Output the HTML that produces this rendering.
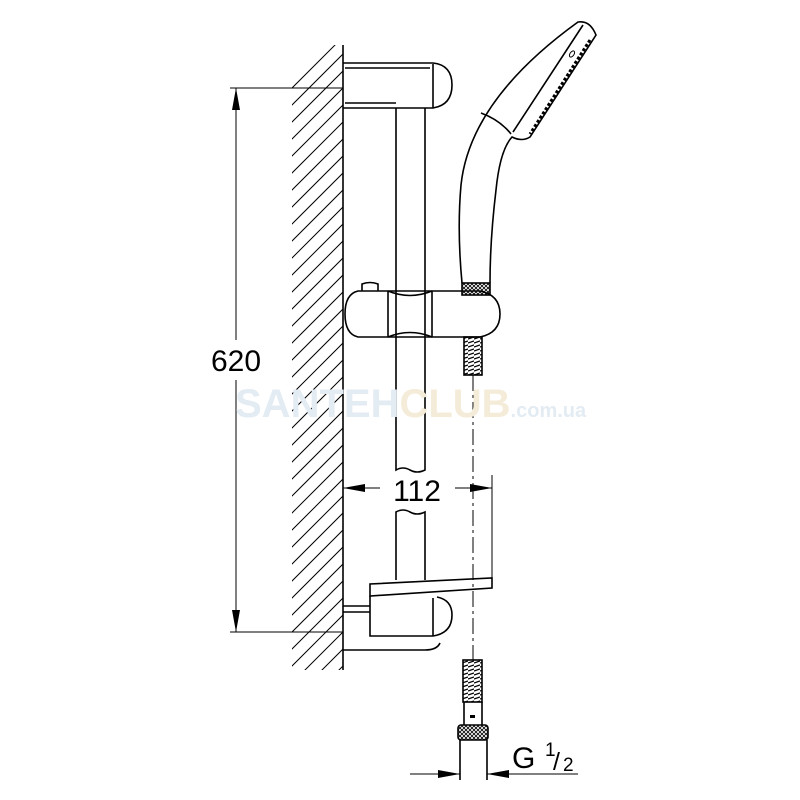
<!DOCTYPE html>
<html><head><style>body{margin:0;background:#fff}svg{display:block}</style></head><body>
<svg width="800" height="800" viewBox="0 0 800 800" xmlns="http://www.w3.org/2000/svg" font-family="Liberation Sans, Arial, sans-serif">
<defs>
<clipPath id="wc"><rect x="292" y="45" width="51" height="625"/></clipPath>
<pattern id="knurl" width="4" height="4" patternUnits="userSpaceOnUse"><path d="M0 0L4 4M4 0L0 4" stroke="#000" stroke-width="0.8"/></pattern>
<pattern id="thr" width="6" height="4" patternUnits="userSpaceOnUse"><path d="M0 3L6 1" stroke="#000" stroke-width="1.3"/></pattern>
</defs>
<g fill="none" stroke="#000" stroke-width="1.6">
<g clip-path="url(#wc)" stroke-width="1">
<path d="M280 100L350 30M280 117L350 47M280 134L350 64M280 151L350 81M280 168L350 98M280 185L350 115M280 202L350 132M280 219L350 149M280 236L350 166M280 253L350 183M280 270L350 200M280 287L350 217M280 304L350 234M280 321L350 251M280 338L350 268M280 355L350 285M280 372L350 302M280 389L350 319M280 406L350 336M280 423L350 353M280 440L350 370M280 457L350 387M280 474L350 404M280 491L350 421M280 508L350 438M280 525L350 455M280 542L350 472M280 559L350 489M280 576L350 506M280 593L350 523M280 610L350 540M280 627L350 557M280 644L350 574M280 661L350 591M280 678L350 608M280 695L350 625M280 712L350 642M280 729L350 659M280 746L350 676"/>
</g>
<line x1="343" y1="45" x2="343" y2="670"/>
<g stroke-width="1">
<line x1="230" y1="88" x2="343" y2="88"/>
<line x1="230" y1="632" x2="343" y2="632"/>
<line x1="236" y1="88" x2="236" y2="340"/>
<line x1="236" y1="380" x2="236" y2="632"/>
</g>
<path d="M236 88L232 110L240 110Z M236 632L232 610L240 610Z" fill="#000" stroke="none"/>
<path d="M343 63H433Q452 65 452 85Q452 105 433 108H343"/>
<path d="M345 68H430M345 103H396"/>
<line x1="433" y1="64" x2="433" y2="108"/>
<path d="M396 108V470Q403 466 410 470Q417 474 425 470V108"/>
<path d="M396 580V512Q403 508 410 512Q417 516 425 512V580"/>
<path d="M362 291V284Q370 281 378 284V291"/>
<path d="M358 291H480Q500 295 500 314Q500 333 480 337H358Q345 334 345 314Q345 294 358 291Z"/>
<line x1="388" y1="291" x2="388" y2="337"/>
<line x1="432" y1="291" x2="432" y2="337"/>
<path d="M388 291Q410 300 432 291M388 337Q410 328 432 337"/>
<path d="M462 283Q457 230 461 185Q470 100 578 22Q590 20 596 35L530 137Q522 142 512 137Q500 150 496 190Q490 240 490 283"/>
<path d="M583 25L513 132M481 113Q500 120 511 134"/>
<path d="M590 40L530 134" stroke-width="3" stroke-dasharray="3 2"/>
<ellipse cx="572" cy="54" rx="2" ry="3.5" transform="rotate(35 572 54)" stroke-width="1"/>
<rect x="462" y="283" width="28" height="12" fill="url(#knurl)"/>
<rect x="464" y="337" width="18" height="38" fill="url(#thr)"/>
<line x1="473" y1="375" x2="473" y2="660" stroke-width="1" stroke-dasharray="16 4 3 4"/>
<g stroke-width="1">
<line x1="343" y1="488" x2="380" y2="488"/>
<line x1="455" y1="488" x2="492" y2="488"/>
<line x1="492" y1="475" x2="492" y2="585"/>
</g>
<path d="M343 488L365 484L365 492Z M492 488L470 484L470 492Z" fill="#000" stroke="none"/>
<path d="M370 585V596L492 588V578L370 584Z"/>
<path d="M370 596V636H433Q452 633 452 615Q452 600 437 597"/>
<line x1="433" y1="598" x2="433" y2="636"/>
<path d="M343 606H370M343 612H370M343 650H425Q437 650 440 643"/>
<rect x="463" y="660" width="19" height="42" fill="url(#thr)"/>
<path d="M464 702V725M482 702V725"/>
<rect x="458" y="725" width="30" height="15" rx="3" fill="url(#knurl)"/>
<path d="M460 740V780M487 740V780"/>
<rect x="470" y="715" width="5" height="3" fill="#000" stroke="none"/>
<g stroke-width="1">
<line x1="410" y1="774" x2="460" y2="774"/>
<line x1="487" y1="774" x2="578" y2="774"/>
</g>
<path d="M460 774L438 770L438 778Z M487 774L509 770L509 778Z" fill="#000" stroke="none"/>
</g>
<g fill="#000" font-size="30">
<text x="236" y="371" text-anchor="middle">620</text>
<text x="417" y="501" text-anchor="middle">112</text>
<text x="512" y="768">G</text>
<text x="545" y="756" font-size="19">1</text>
<text x="553" y="770" font-size="25">/</text>
<text x="563" y="771" font-size="19">2</text>
</g>
<text x="235" y="417" font-size="40" fill="#e3ebf3" font-weight="bold">SANTEH<tspan fill="#f4ecd8">CLUB</tspan><tspan font-size="20" fill="#e3ebf3">.com.ua</tspan></text>
</svg>
</body></html>
